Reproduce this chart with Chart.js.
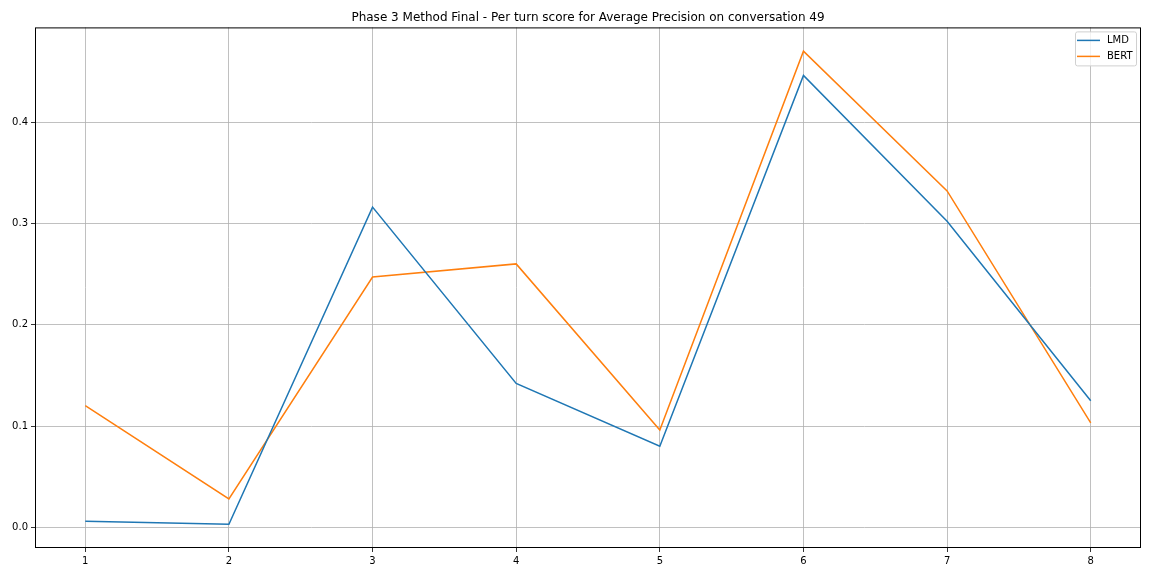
<!DOCTYPE html>
<html>
<head>
<meta charset="utf-8">
<script src="https://cdn.jsdelivr.net/npm/chart.js@4/dist/chart.umd.min.js"></script>
<style>
  html, body { margin: 0; padding: 0; background: #fff; }
  #wrap { width: 1152px; height: 576px; }
</style>
</head>
<body>
<div id="wrap"><canvas id="chart"></canvas></div>
<script>
const turns = [1, 2, 3, 4, 5, 6, 7, 8];
const lmdScores = [0.006, 0.003, 0.316, 0.142, 0.080, 0.446, 0.302, 0.125];
const bertScores = [0.120, 0.028, 0.247, 0.260, 0.096, 0.470, 0.332, 0.103];
const yTicks = [0.0, 0.1, 0.2, 0.3, 0.4];

const toPoints = (vals) => turns.map((t, i) => ({ x: t, y: vals[i] }));

// box around the axes + legend in upper right, like matplotlib
const framePlugin = {
    id: 'frame',
    afterDraw(chart) {
        const { ctx, chartArea: a } = chart;
        ctx.save();
        ctx.strokeStyle = '#000';
        ctx.lineWidth = 1;
        ctx.strokeRect(a.left + 0.5, a.top + 0.5, a.right - a.left - 1, a.bottom - a.top - 1);

        const bx = a.right - 66, by = a.top + 4, bw = 61, bh = 34;
        ctx.fillStyle = 'rgba(255,255,255,0.8)';
        ctx.strokeStyle = '#d0d0d0';
        ctx.beginPath();
        ctx.roundRect(bx + 0.5, by + 0.5, bw, bh, 2);
        ctx.fill();
        ctx.stroke();

        ctx.font = '10px "DejaVu Sans"';
        ctx.textBaseline = 'middle';
        ctx.textAlign = 'left';
        chart.data.datasets.forEach((ds, i) => {
            const ly = by + 9 + i * 16;
            ctx.strokeStyle = ds.borderColor;
            ctx.lineWidth = 1.5;
            ctx.beginPath();
            ctx.moveTo(bx + 2, ly);
            ctx.lineTo(bx + 25, ly);
            ctx.stroke();
            ctx.fillStyle = '#000';
            ctx.fillText(ds.label, bx + 32, ly + 0.5);
        });
        ctx.restore();
    }
};

new Chart(document.getElementById('chart').getContext('2d'), {
    type: 'line',
    data: {
        datasets: [
            { label: 'LMD', data: toPoints(lmdScores), borderColor: '#1f77b4', borderWidth: 1.5, pointRadius: 0, tension: 0, fill: false },
            { label: 'BERT', data: toPoints(bertScores), borderColor: '#ff7f0e', borderWidth: 1.5, pointRadius: 0, tension: 0, fill: false }
        ]
    },
    options: {
        responsive: true,
        maintainAspectRatio: false,
        animation: false,
        layout: { padding: { left: 0, right: 11, top: 0, bottom: 0 } },
        scales: {
            x: {
                type: 'linear',
                min: 0.65,
                max: 8.35,
                afterBuildTicks: (s) => { s.ticks = turns.map(v => ({ value: v })); },
                afterFit: (s) => { s.height = 28; },
                grid: { color: '#b0b0b0', lineWidth: 0.8, tickColor: '#000', tickLength: 4 },
                border: { display: false },
                ticks: { color: '#000', font: { family: 'DejaVu Sans', size: 10 }, padding: 3, maxRotation: 0 }
            },
            y: {
                type: 'linear',
                min: -0.0204,
                max: 0.4934,
                afterBuildTicks: (s) => { s.ticks = yTicks.map(v => ({ value: v })); },
                afterFit: (s) => { s.width = 35; },
                grid: { color: '#b0b0b0', lineWidth: 0.8, tickColor: '#000', tickLength: 4 },
                border: { display: false },
                ticks: { color: '#000', font: { family: 'DejaVu Sans', size: 10 }, padding: 3, callback: (v) => v.toFixed(1) }
            }
        },
        plugins: {
            legend: { display: false },
            tooltip: { enabled: false },
            title: {
                display: true,
                fullSize: false,
                text: 'Phase 3 Method Final - Per turn score for Average Precision on conversation 49',
                color: '#000',
                font: { family: 'DejaVu Sans', size: 12, weight: 'normal' },
                padding: { top: 11, bottom: 2 }
            }
        }
    },
    plugins: [framePlugin]
});
</script>
</body>
</html>
